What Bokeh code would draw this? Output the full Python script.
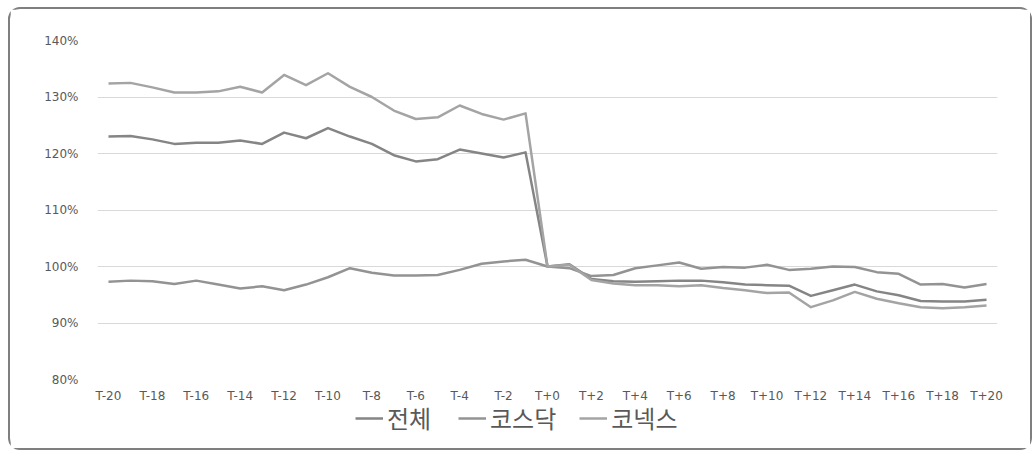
from bokeh.plotting import figure
from bokeh.layouts import column
from bokeh.models import Range1d, FixedTicker, Legend, LegendItem
from bokeh.embed import file_html
from bokeh.resources import INLINE

periods = ["T-20", "T-19", "T-18", "T-17", "T-16", "T-15", "T-14", "T-13", "T-12", "T-11",
           "T-10", "T-9", "T-8", "T-7", "T-6", "T-5", "T-4", "T-3", "T-2", "T-1",
           "T+0", "T+1", "T+2", "T+3", "T+4", "T+5", "T+6", "T+7", "T+8", "T+9",
           "T+10", "T+11", "T+12", "T+13", "T+14", "T+15", "T+16", "T+17", "T+18", "T+19", "T+20"]

total = [123.0, 123.1, 122.5, 121.7, 121.9, 121.9, 122.3, 121.7, 123.7, 122.7,
         124.5, 123.0, 121.7, 119.7, 118.6, 119.0, 120.7, 120.0, 119.3, 120.2,
         100.0, 100.4, 97.8, 97.4, 97.3, 97.4, 97.5, 97.5, 97.2, 96.8,
         96.7, 96.6, 94.8, 95.8, 96.8, 95.6, 94.9, 93.9, 93.8, 93.8, 94.1]

kosdaq = [97.3, 97.5, 97.4, 96.9, 97.5, 96.8, 96.1, 96.5, 95.8, 96.8,
          98.1, 99.7, 98.9, 98.4, 98.4, 98.5, 99.4, 100.5, 100.9, 101.2,
          100.0, 99.7, 98.3, 98.5, 99.7, 100.2, 100.7, 99.6, 99.9, 99.8,
          100.3, 99.4, 99.6, 100.0, 99.9, 99.0, 98.7, 96.8, 96.9, 96.3, 96.9]

konex = [132.4, 132.5, 131.7, 130.8, 130.8, 131.0, 131.8, 130.8, 133.9, 132.1,
         134.2, 131.8, 130.0, 127.6, 126.1, 126.4, 128.5, 127.0, 126.0, 127.1,
         100.0, 100.3, 97.6, 97.0, 96.7, 96.7, 96.5, 96.7, 96.2, 95.8,
         95.3, 95.4, 92.8, 94.0, 95.5, 94.3, 93.5, 92.8, 92.6, 92.8, 93.1]

series_names = ["전체", "코스닥", "코넥스"]
y_ticks = [80, 90, 100, 110, 120, 130, 140]

idx = list(range(len(periods)))
colors = ["#858585", "#939393", "#a4a4a4"]

# main chart
p = figure(width=1020, height=396, output_backend="svg", toolbar_location=None,
           x_range=Range1d(-0.5, len(periods) - 0.5), y_range=Range1d(80, 140),
           min_border_left=87, min_border_right=33, min_border_top=31, min_border_bottom=25)
p.background_fill_color = "white"
p.border_fill_color = "white"
p.outline_line_color = None

for ys, c in zip([total, kosdaq, konex], colors):
    p.line(idx, ys, line_color=c, line_width=2.5, line_join="round")

p.xaxis.ticker = FixedTicker(ticks=idx[::2])
p.xaxis.major_label_overrides = {i: periods[i] for i in idx}
p.yaxis.ticker = FixedTicker(ticks=y_ticks)
p.yaxis.major_label_overrides = {t: f"{t}%" for t in y_ticks}
for ax in (p.xaxis[0], p.yaxis[0]):
    ax.axis_line_color = None
    ax.major_tick_line_color = None
    ax.minor_tick_line_color = None
    ax.major_label_text_color = "#595959"
    ax.major_label_text_font = "DejaVu Sans"
    ax.major_label_text_font_size = "12px"
p.xaxis.major_label_standoff = 3
p.yaxis.major_label_standoff = 13

p.xgrid.grid_line_color = None
p.ygrid.grid_line_color = "#d9d9d9"
p.ygrid.grid_line_width = 1

# legend strip
pl = figure(width=1020, height=43, output_backend="svg", toolbar_location=None,
            x_range=Range1d(0, 1), y_range=Range1d(0, 1),
            min_border_left=0, min_border_right=0, min_border_top=0, min_border_bottom=0)
pl.axis.visible = False
pl.grid.grid_line_color = None
pl.outline_line_color = None
pl.background_fill_color = "white"
pl.border_fill_color = "white"
dummies = [pl.line([5, 6], [5, 6], line_color=c, line_width=2.5) for c in colors]

legend = Legend(items=[LegendItem(label=n, renderers=[r]) for n, r in zip(series_names, dummies)],
                orientation="horizontal", location=(258, 13),
                label_text_font="Noto Sans CJK KR", label_text_font_size="24px",
                label_text_color="#595959", glyph_width=28, label_standoff=4, spacing=23,
                label_width=48, padding=0, margin=0, border_line_color=None,
                background_fill_alpha=0)
pl.add_layout(legend)

layout = column(p, pl, spacing=0,
                styles={"border": "2px solid #7f7f7f", "border-radius": "12px",
                        "box-sizing": "content-box",
                        "margin-left": "8px", "margin-top": "7px"})

open("out.html", "w").write(file_html(layout, INLINE))
